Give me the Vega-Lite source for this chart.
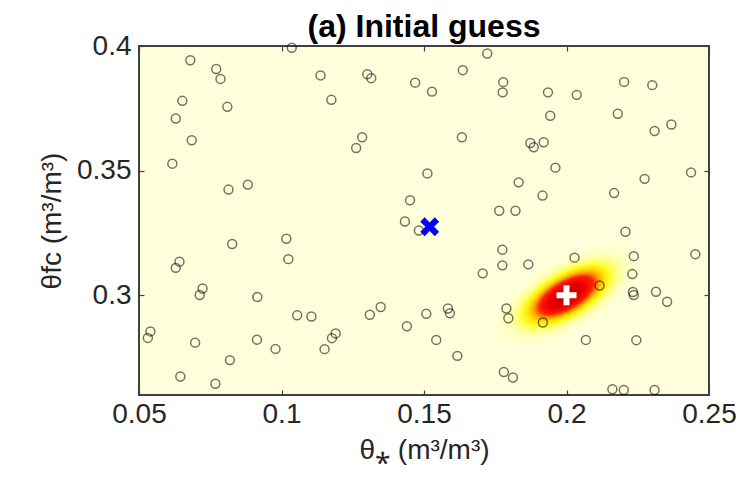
{
  "$schema": "https://vega.github.io/schema/vega-lite/v6.json",
  "width": 570,
  "height": 349,
  "autosize": {"type": "none"},
  "padding": {"left": 139, "top": 46, "right": 31, "bottom": 100},
  "background": "white",
  "title": {
    "text": "(a) Initial guess",
    "font": "Liberation Sans",
    "fontSize": 32,
    "fontWeight": "bold",
    "color": "#000000",
    "anchor": "middle",
    "offset": -12
  },
  "config": {
    "view": {"fill": "#FFFFDC", "stroke": "#404040", "strokeWidth": 2},
    "axis": {
      "domain": false,
      "grid": false,
      "zindex": 1,
      "labelFlush": false,
      "tickColor": "#404040",
      "tickSize": -5,
      "tickWidth": 1.2,
      "labelFont": "Liberation Sans",
      "labelFontSize": 28,
      "labelColor": "#262626",
      "titleFont": "Liberation Sans",
      "titleFontSize": 28,
      "titleFontWeight": "normal",
      "titleColor": "#262626"
    }
  },
  "datasets": {
    "samples": [
      {"x": 0.068, "y": 0.3943}, {"x": 0.0771, "y": 0.3908}, {"x": 0.0786, "y": 0.3868},
      {"x": 0.1036, "y": 0.3993}, {"x": 0.1137, "y": 0.3882}, {"x": 0.1175, "y": 0.3784},
      {"x": 0.0652, "y": 0.378}, {"x": 0.081, "y": 0.3756}, {"x": 0.0629, "y": 0.3709},
      {"x": 0.0685, "y": 0.3622}, {"x": 0.0617, "y": 0.3528}, {"x": 0.0882, "y": 0.3444},
      {"x": 0.0814, "y": 0.3424}, {"x": 0.1301, "y": 0.3887}, {"x": 0.1315, "y": 0.3871},
      {"x": 0.1469, "y": 0.3853}, {"x": 0.1528, "y": 0.3817}, {"x": 0.1636, "y": 0.3903},
      {"x": 0.1722, "y": 0.397}, {"x": 0.1778, "y": 0.3855}, {"x": 0.1776, "y": 0.3814},
      {"x": 0.1283, "y": 0.3634}, {"x": 0.1262, "y": 0.3591}, {"x": 0.1633, "y": 0.3634},
      {"x": 0.1512, "y": 0.3489}, {"x": 0.1451, "y": 0.3381}, {"x": 0.1433, "y": 0.3296},
      {"x": 0.1764, "y": 0.3339}, {"x": 0.1821, "y": 0.3339}, {"x": 0.1832, "y": 0.3453},
      {"x": 0.1935, "y": 0.3814}, {"x": 0.2036, "y": 0.3804}, {"x": 0.2202, "y": 0.3856},
      {"x": 0.2301, "y": 0.3843}, {"x": 0.1943, "y": 0.372}, {"x": 0.218, "y": 0.3728},
      {"x": 0.2309, "y": 0.3659}, {"x": 0.2368, "y": 0.3685}, {"x": 0.1873, "y": 0.3611},
      {"x": 0.1885, "y": 0.3594}, {"x": 0.192, "y": 0.3614}, {"x": 0.1961, "y": 0.3512},
      {"x": 0.2437, "y": 0.3493}, {"x": 0.2274, "y": 0.3467}, {"x": 0.2167, "y": 0.341},
      {"x": 0.1916, "y": 0.34}, {"x": 0.0827, "y": 0.3206}, {"x": 0.1017, "y": 0.3227},
      {"x": 0.1024, "y": 0.3145}, {"x": 0.0642, "y": 0.3135}, {"x": 0.0629, "y": 0.311},
      {"x": 0.0723, "y": 0.3027}, {"x": 0.0713, "y": 0.3001}, {"x": 0.0915, "y": 0.2993},
      {"x": 0.1055, "y": 0.292}, {"x": 0.1105, "y": 0.2915}, {"x": 0.054, "y": 0.2855},
      {"x": 0.0531, "y": 0.2829}, {"x": 0.0697, "y": 0.281}, {"x": 0.0914, "y": 0.2822},
      {"x": 0.0979, "y": 0.2785}, {"x": 0.0819, "y": 0.274}, {"x": 0.0645, "y": 0.2674},
      {"x": 0.0768, "y": 0.2645}, {"x": 0.119, "y": 0.2847}, {"x": 0.1177, "y": 0.2828},
      {"x": 0.1151, "y": 0.2784}, {"x": 0.1482, "y": 0.326}, {"x": 0.1775, "y": 0.3183},
      {"x": 0.1775, "y": 0.312}, {"x": 0.1706, "y": 0.3088}, {"x": 0.1348, "y": 0.2953},
      {"x": 0.131, "y": 0.2922}, {"x": 0.1508, "y": 0.2926}, {"x": 0.1584, "y": 0.2947},
      {"x": 0.1591, "y": 0.2928}, {"x": 0.144, "y": 0.2876}, {"x": 0.1543, "y": 0.2821},
      {"x": 0.1617, "y": 0.2757}, {"x": 0.1789, "y": 0.2947}, {"x": 0.1796, "y": 0.2908},
      {"x": 0.178, "y": 0.2692}, {"x": 0.1812, "y": 0.267}, {"x": 0.2207, "y": 0.3255},
      {"x": 0.2452, "y": 0.3165}, {"x": 0.2028, "y": 0.3151}, {"x": 0.1866, "y": 0.3124},
      {"x": 0.2236, "y": 0.3157}, {"x": 0.2231, "y": 0.3085}, {"x": 0.2116, "y": 0.3039},
      {"x": 0.2233, "y": 0.3013}, {"x": 0.2236, "y": 0.3001}, {"x": 0.2314, "y": 0.3014},
      {"x": 0.2353, "y": 0.2974}, {"x": 0.1917, "y": 0.2891}, {"x": 0.2068, "y": 0.2821},
      {"x": 0.2245, "y": 0.282}, {"x": 0.2161, "y": 0.2623}, {"x": 0.2201, "y": 0.262},
      {"x": 0.2309, "y": 0.262}
    ],
    "density": [
      {"x": 0.2, "y": 0.3, "d": 0.005}, {"x": 0.2, "y": 0.3, "d": 0.01},
      {"x": 0.2, "y": 0.3, "d": 0.02}, {"x": 0.2, "y": 0.3, "d": 0.035},
      {"x": 0.2, "y": 0.3, "d": 0.05}, {"x": 0.2, "y": 0.3, "d": 0.07},
      {"x": 0.2, "y": 0.3, "d": 0.09}, {"x": 0.2, "y": 0.3, "d": 0.11},
      {"x": 0.2, "y": 0.3, "d": 0.14}, {"x": 0.2, "y": 0.3, "d": 0.17},
      {"x": 0.2, "y": 0.3, "d": 0.2}, {"x": 0.2, "y": 0.3, "d": 0.24},
      {"x": 0.2, "y": 0.3, "d": 0.28}, {"x": 0.2, "y": 0.3, "d": 0.32},
      {"x": 0.2, "y": 0.3, "d": 0.36}, {"x": 0.2, "y": 0.3, "d": 0.4},
      {"x": 0.2, "y": 0.3, "d": 0.44}, {"x": 0.2, "y": 0.3, "d": 0.48},
      {"x": 0.2, "y": 0.3, "d": 0.52}, {"x": 0.2, "y": 0.3, "d": 0.56},
      {"x": 0.2, "y": 0.3, "d": 0.6}, {"x": 0.2, "y": 0.3, "d": 0.65},
      {"x": 0.2, "y": 0.3, "d": 0.7}, {"x": 0.2, "y": 0.3, "d": 0.75},
      {"x": 0.2, "y": 0.3, "d": 0.8}, {"x": 0.2, "y": 0.3, "d": 0.85},
      {"x": 0.2, "y": 0.3, "d": 0.9}, {"x": 0.2, "y": 0.3, "d": 0.95}
    ],
    "truth": [{"x": 0.2, "y": 0.3}],
    "guess": [{"x": 0.152, "y": 0.3275}]
  },
  "layer": [
    {
      "encoding": {
        "x": {
          "field": "x",
          "type": "quantitative",
          "scale": {"domain": [0.05, 0.25], "nice": false, "zero": false},
          "axis": {
            "orient": "bottom",
            "title": "θ⁎ (m³/m³)",
            "values": [0.05, 0.1, 0.15, 0.2, 0.25],
            "format": "~g",
            "labelPadding": 10,
            "titlePadding": 8
          }
        },
        "y": {
          "field": "y",
          "type": "quantitative",
          "scale": {"domain": [0.26, 0.4], "nice": false, "zero": false},
          "axis": {
            "orient": "left",
            "title": "θfc (m³/m³)",
            "values": [0.3, 0.35, 0.4],
            "format": "~g",
            "labelPadding": 13,
            "titlePadding": 10
          }
        }
      },
      "layer": [
        {
          "data": {"name": "density"},
          "mark": {
            "type": "point",
            "filled": true,
            "opacity": 1,
            "strokeWidth": 0,
            "clip": true,
            "angle": -30,
            "shape": "M-1,0 C-1,-0.243 -0.552,-0.44 0,-0.44 C0.552,-0.44 1,-0.243 1,0 C1,0.243 0.552,0.44 0,0.44 C-0.552,0.44 -1,0.243 -1,0 Z"
          },
          "encoding": {
            "order": {"field": "d", "type": "quantitative"},
            "size": {
              "field": "d",
              "type": "quantitative",
              "scale": {"type": "log", "domain": [0.005, 1], "range": [28653, 0], "zero": false},
              "legend": null
            },
            "color": {
              "field": "d",
              "type": "quantitative",
              "scale": {
                "domain": [0, 0.01, 0.04, 0.09, 0.15, 0.25, 0.38, 0.5, 0.7, 1],
                "range": ["#FFFFDC", "#FFFFD2", "#FFFFB4", "#FFFF80", "#FFFF28", "#FFE000", "#FF9000", "#FF2000", "#F00000", "#C00000"],
                "interpolate": "rgb"
              },
              "legend": null
            }
          }
        },
        {
          "data": {"name": "samples"},
          "mark": {
            "type": "point",
            "shape": "circle",
            "filled": false,
            "size": 80,
            "stroke": "#000000",
            "strokeOpacity": 0.55,
            "strokeWidth": 1.5,
            "opacity": 1
          }
        },
        {
          "data": {"name": "guess"},
          "mark": {
            "type": "point",
            "filled": true,
            "color": "#0000FF",
            "opacity": 1,
            "size": 420,
            "angle": 45,
            "shape": "M-0.3,-1 L0.3,-1 L0.3,-0.3 L1,-0.3 L1,0.3 L0.3,0.3 L0.3,1 L-0.3,1 L-0.3,0.3 L-1,0.3 L-1,-0.3 L-0.3,-0.3 Z"
          }
        }
      ]
    },
    {
      "data": {"name": "truth"},
      "mark": {
        "type": "point",
        "filled": true,
        "color": "#FFFFFF",
        "opacity": 1,
        "size": 400,
        "shape": "M-0.3,-1 L0.3,-1 L0.3,-0.3 L1,-0.3 L1,0.3 L0.3,0.3 L0.3,1 L-0.3,1 L-0.3,0.3 L-1,0.3 L-1,-0.3 L-0.3,-0.3 Z"
      },
      "encoding": {
        "x": {
          "field": "x",
          "type": "quantitative",
          "axis": {"orient": "top", "labels": false, "title": null, "values": [0.05, 0.1, 0.15, 0.2, 0.25]}
        },
        "y": {
          "field": "y",
          "type": "quantitative",
          "axis": {"orient": "right", "labels": false, "title": null, "values": [0.3, 0.35, 0.4]}
        }
      }
    }
  ],
  "resolve": {"axis": {"x": "independent", "y": "independent"}}
}
